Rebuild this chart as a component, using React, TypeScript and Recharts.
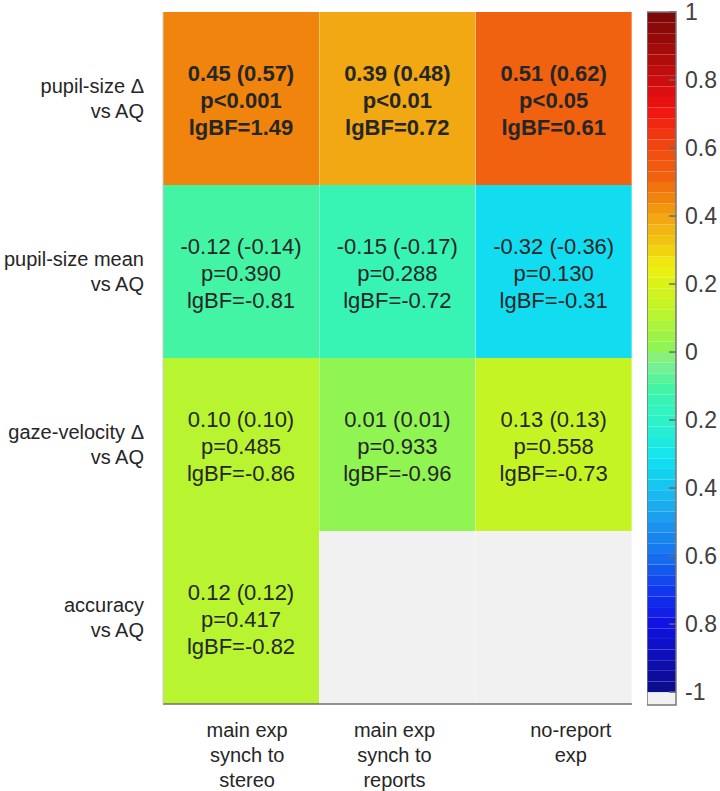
import React from 'react';
import {
  BarChart,
  Bar,
  Cell,
  LabelList,
  XAxis,
  YAxis,
  ComposedChart,
  ReferenceArea,
  ReferenceLine,
} from 'recharts';

// columns (conditions) and rows (measures), top row first
const columnNames = ['stereo', 'reports', 'noreport'];
const columnLabels = [
  ['main exp', 'synch to', 'stereo'],
  ['main exp', 'synch to', 'reports'],
  ['no-report', 'exp'],
];
const rowLabels = [
  ['pupil-size Δ', 'vs AQ'],
  ['pupil-size mean', 'vs AQ'],
  ['gaze-velocity Δ', 'vs AQ'],
  ['accuracy', 'vs AQ'],
];

// correlation r, (partial r), p, log10 Bayes factor
const rValues = [
  [0.45, 0.39, 0.51],
  [-0.12, -0.15, -0.32],
  [0.1, 0.01, 0.13],
  [0.12, null, null],
];
const rAdjusted = [
  [0.57, 0.48, 0.62],
  [-0.14, -0.17, -0.36],
  [0.1, 0.01, 0.13],
  [0.12, null, null],
];
const pLabels = [
  ['p<0.001', 'p<0.01', 'p<0.05'],
  ['p=0.390', 'p=0.288', 'p=0.130'],
  ['p=0.485', 'p=0.933', 'p=0.558'],
  ['p=0.417', null, null],
];
const lgBF = [
  [1.49, 0.72, 0.61],
  [-0.81, -0.72, -0.31],
  [-0.86, -0.96, -0.73],
  [-0.82, null, null],
];

const colorbarTicks = [1, 0.8, 0.6, 0.4, 0.2, 0, -0.2, -0.4, -0.6, -0.8, -1];
const colorbarTickLabels = ['1', '0.8', '0.6', '0.4', '0.2', '0', '0.2', '0.4', '0.6', '0.8', '-1'];

// colormap stops
const cmapStops: [number, string][] = [
  [-1.0, '#0c0c86'],
  [-0.9, '#0e0eb6'],
  [-0.8, '#1012e4'],
  [-0.7, '#1238ee'],
  [-0.6, '#1670ee'],
  [-0.5, '#1c98ee'],
  [-0.4, '#18c2f0'],
  [-0.31, '#10e4f0'],
  [-0.2, '#2ef2c8'],
  [-0.14, '#38f4b4'],
  [-0.1, '#48f4a0'],
  [-0.03, '#80f090'],
  [0.01, '#8ef454'],
  [0.1, '#b4f432'],
  [0.14, '#c4f424'],
  [0.2, '#daf21a'],
  [0.25, '#f0f010'],
  [0.31, '#f0cc10'],
  [0.39, '#f2a812'],
  [0.45, '#f0860c'],
  [0.51, '#f0640f'],
  [0.6, '#f04a10'],
  [0.72, '#f01010'],
  [0.86, '#b00c0c'],
  [1.0, '#780808'],
];
const NAN_COLOR = '#f1f1f1';
const N_BANDS = 64;
const FONT = '"Liberation Sans", Arial, sans-serif';

function hexRgb(h: string) {
  return [1, 3, 5].map((i) => parseInt(h.slice(i, i + 2), 16));
}

function interpColor(v: number) {
  if (v <= cmapStops[0][0]) return cmapStops[0][1];
  for (let i = 1; i < cmapStops.length; i++) {
    const [v1, c1] = cmapStops[i];
    if (v <= v1) {
      const [v0, c0] = cmapStops[i - 1];
      const t = (v - v0) / (v1 - v0);
      const a = hexRgb(c0);
      const b = hexRgb(c1);
      const rgb = a.map((x, k) => Math.round(x + (b[k] - x) * t));
      return `rgb(${rgb.join(',')})`;
    }
  }
  return cmapStops[cmapStops.length - 1][1];
}

function bandColor(i: number) {
  return interpColor(-1 + ((i + 0.5) * 2) / N_BANDS);
}

function valueColor(v: number | null) {
  if (v === null) return NAN_COLOR;
  const i = Math.min(N_BANDS - 1, Math.max(0, Math.floor(((v + 1) / 2) * N_BANDS)));
  return bandColor(i);
}

const bands = Array.from({ length: N_BANDS }, (_, i) => ({
  y1: -1 + (i * 2) / N_BANDS,
  y2: -1 + ((i + 1) * 2) / N_BANDS,
  fill: bandColor(i),
}));

// each cell is one unit of a stacked column
const gridData = columnNames.map((col) => {
  const d: any = { col };
  rowLabels.forEach((_, r) => (d[`row${r}`] = 1));
  return d;
});

const labelNudge = [6, -3, 17];

function CellText(props: any, row: number) {
  const { x, y, width, height, index } = props;
  const r = rValues[row][index];
  if (r === null) return null;
  const cx = x + width / 2;
  const cy = y + height / 2 + 2;
  const p = pLabels[row][index] as string;
  const bold = p.includes('<');
  const lines = [
    `${r.toFixed(2)} (${(rAdjusted[row][index] as number).toFixed(2)})`,
    p,
    `lgBF=${(lgBF[row][index] as number).toFixed(2)}`,
  ];
  return (
    <g>
      {lines.map((t, k) => (
        <text
          key={k}
          x={cx}
          y={cy + (k - 1) * 27}
          textAnchor="middle"
          dominantBaseline="central"
          fontSize={22}
          fontWeight={bold ? 'bold' : 'normal'}
          fontFamily={FONT}
          fill="#262626"
        >
          {t}
        </text>
      ))}
    </g>
  );
}

function RowTick(props: any) {
  const { x, y, payload } = props;
  const idx = Math.round(3.5 - payload.value);
  const lines = rowLabels[idx];
  return (
    <g>
      {lines.map((t, k) => (
        <text
          key={k}
          x={x - 19}
          y={y + (k - 0.5) * 25}
          textAnchor="end"
          dominantBaseline="central"
          fontSize={20}
          fontFamily={FONT}
          fill="#262626"
        >
          {t}
        </text>
      ))}
    </g>
  );
}

function ColTick(props: any) {
  const { x, y, payload, index } = props;
  const i = index ?? columnNames.indexOf(payload.value);
  const lines = columnLabels[i];
  return (
    <g>
      {lines.map((t, k) => (
        <text
          key={k}
          x={x + labelNudge[i]}
          y={y + 26 + k * 25}
          textAnchor="middle"
          dominantBaseline="central"
          fontSize={20}
          fontFamily={FONT}
          fill="#262626"
        >
          {t}
        </text>
      ))}
    </g>
  );
}

function BarTick(props: any) {
  const { x, y, payload } = props;
  const i = colorbarTicks.indexOf(payload.value);
  return (
    <text
      x={x + 9}
      y={y}
      textAnchor="start"
      dominantBaseline="central"
      fontSize={23}
      fontFamily={FONT}
      fill="#404040"
    >
      {colorbarTickLabels[i]}
    </text>
  );
}

export default function App() {
  const bottomFirst = rowLabels.map((_, r) => r).reverse();
  return (
    <div style={{ position: 'absolute', left: 0, top: 0, width: 720, height: 791, background: '#fff' }}>
      <div style={{ position: 'absolute', left: 0, top: 0 }}>
        <BarChart
          width={632}
          height={791}
          data={gridData}
          margin={{ top: 12, right: 0, bottom: 0, left: 0 }}
          barCategoryGap={0}
          barGap={0}
        >
          <XAxis
            dataKey="col"
            height={87}
            tickLine={false}
            tickSize={0}
            tickMargin={0}
            axisLine={{ stroke: '#707070', strokeWidth: 1.5 }}
            tick={ColTick}
            interval={0}
          />
          <XAxis xAxisId="top" dataKey="col" orientation="top" height={0} tick={false} tickLine={false} axisLine={{ stroke: '#cccccc' }} />
          <YAxis
            type="number"
            domain={[0, 4]}
            ticks={[3.5, 2.5, 1.5, 0.5]}
            width={163}
            tickLine={false}
            tickSize={0}
            tickMargin={0}
            axisLine={{ stroke: '#cccccc' }}
            tick={RowTick}
            allowDataOverflow
          />
          <YAxis yAxisId="right" orientation="right" width={0} domain={[0, 4]} tick={false} tickLine={false} axisLine={{ stroke: '#cccccc' }} />
          {bottomFirst.map((r) => (
            <Bar key={r} dataKey={`row${r}`} stackId="grid" isAnimationActive={false}>
              {columnNames.map((c, ci) => (
                <Cell key={c} fill={valueColor(rValues[r][ci])} />
              ))}
              <LabelList dataKey={`row${r}`} content={(p: any) => CellText(p, r)} />
            </Bar>
          ))}
        </BarChart>
      </div>
      <div style={{ position: 'absolute', left: 647, top: 0 }}>
        <ComposedChart width={73} height={791} data={[{ x: 0 }, { x: 1 }]} margin={{ top: 12, right: 0, bottom: 86, left: 0 }}>
          <XAxis type="number" dataKey="x" domain={[0, 1]} hide />
          <YAxis
            type="number"
            orientation="right"
            domain={[-1.038, 1]}
            ticks={colorbarTicks}
            width={44}
            axisLine={false}
            tickLine={false}
            tickSize={0}
            tickMargin={0}
            tick={BarTick}
            interval={0}
            allowDataOverflow
          />
          <ReferenceArea x1={0} x2={1} y1={-1.038} y2={-1} fill={NAN_COLOR} fillOpacity={1} stroke="none" />
          {bands.map((b, i) => (
            <ReferenceArea key={i} x1={0} x2={1} y1={b.y1} y2={b.y2} fill={b.fill} fillOpacity={1} stroke="none" />
          ))}
          {colorbarTicks.map((t) => (
            <ReferenceLine key={t} segment={[{ x: 0.76, y: t }, { x: 1, y: t }]} stroke="#6a6a6a" strokeWidth={1.5} />
          ))}
          <ReferenceArea x1={0} x2={1} y1={-1.038} y2={1} fill="none" stroke="#777777" strokeWidth={1.5} />
        </ComposedChart>
      </div>
    </div>
  );
}
